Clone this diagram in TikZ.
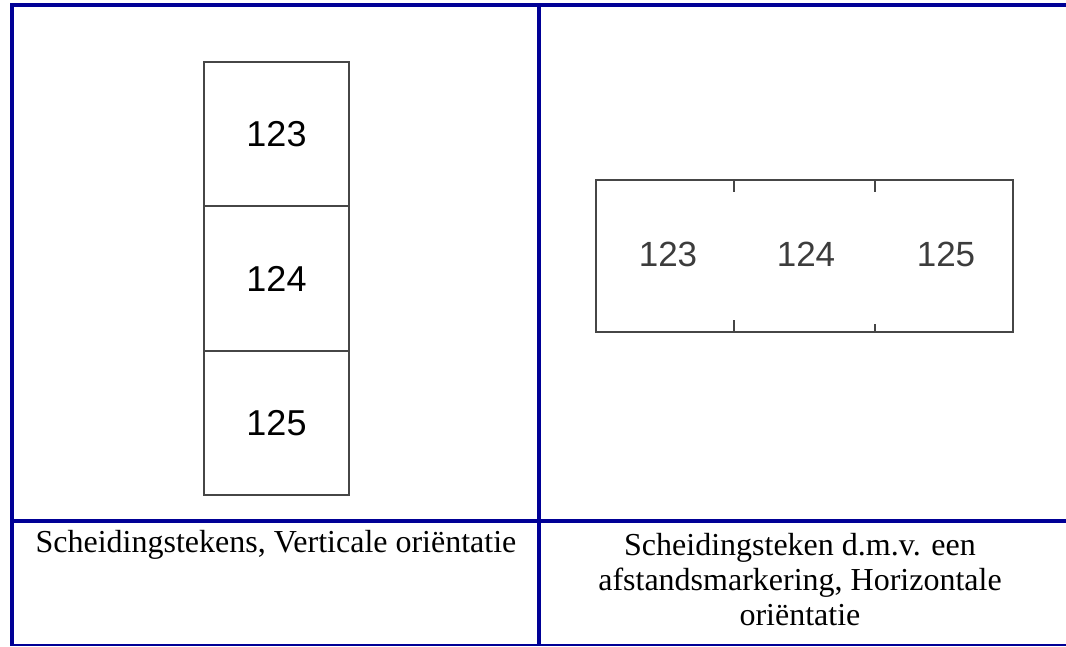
\documentclass[tikz,border=0pt]{standalone}
\usepackage{fontspec}
\setmainfont{Liberation Serif}
\newfontfamily\arialfont{Liberation Sans}
\definecolor{tblue}{RGB}{0,0,150}
\definecolor{boxgray}{RGB}{70,70,70}
\definecolor{numgray}{RGB}{60,60,60}
\begin{document}
\begin{tikzpicture}[x=1pt,y=-1pt,
  rule/.style={draw=tblue,line width=4pt},
  thinrule/.style={draw=tblue,line width=1.5pt},
  labelbox/.style={draw=boxgray,line width=2pt},
  tickline/.style={draw=boxgray,line width=2pt},
  num/.style={font=\arialfont\fontsize{36}{40}\selectfont,text=black,inner sep=0pt},
  hnum/.style={font=\arialfont\fontsize{35}{40}\selectfont,text=numgray,inner sep=0pt},
  captext/.style={font=\fontsize{32}{35}\selectfont,align=center,inner sep=0pt,text=black}]
\useasboundingbox (0,0) rectangle (1066,646);
\fill[white] (0,0) rectangle (1066,646);
% table rules
\coordinate (tl) at (10,5);
\coordinate (tr) at (1066,5);
\coordinate (ml) at (10,521);
\coordinate (mr) at (1066,521);
\coordinate (bl) at (10,645);
\coordinate (br) at (1066,645);
\coordinate (lt) at (12,3);
\coordinate (lb) at (12,646);
\coordinate (ct) at (539,3);
\coordinate (cb) at (539,646);
\draw[rule] (tl) -- (tr);
\draw[rule] (ml) -- (mr);
\draw[thinrule] (bl) -- (br);
\draw[rule] (lt) -- (lb);
\draw[rule] (ct) -- (cb);
% vertical labels
\node[labelbox,minimum width=145pt,minimum height=144.3pt,inner sep=0pt] (v1) at (276.5,134.2) {};
\node[labelbox,minimum width=145pt,minimum height=144.3pt,inner sep=0pt] (v2) at (276.5,278.5) {};
\node[labelbox,minimum width=145pt,minimum height=144.3pt,inner sep=0pt] (v3) at (276.5,422.8) {};
\node[num] (n1) at (v1.center) {123};
\node[num] (n2) at (v2.center) {124};
\node[num] (n3) at (v3.center) {125};
% horizontal label
\node[labelbox,minimum width=417pt,minimum height=152pt,inner sep=0pt] (h) at (804.5,256) {};
\coordinate (t1a) at (734,180);
\coordinate (t1b) at (734,192);
\coordinate (t2a) at (875,180);
\coordinate (t2b) at (875,192);
\coordinate (b1a) at (734,332);
\coordinate (b1b) at (734,320);
\coordinate (b2a) at (875,332);
\coordinate (b2b) at (875,324);
\draw[tickline] (t1a) -- (t1b);
\draw[tickline] (t2a) -- (t2b);
\draw[tickline] (b1a) -- (b1b);
\draw[tickline] (b2a) -- (b2b);
\node[hnum] (h1) at (668,254) {123};
\node[hnum] (h2) at (806,254) {124};
\node[hnum] (h3) at (946,254) {125};
% captions
\node[captext] (c1) at (276,545) {Scheidingstekens, Verticale oriëntatie};
\node[captext] (c2) at (800,580) {Scheidingsteken d.m.v. een\\afstandsmarkering, Horizontale\\oriëntatie};
\end{tikzpicture}
\end{document}
